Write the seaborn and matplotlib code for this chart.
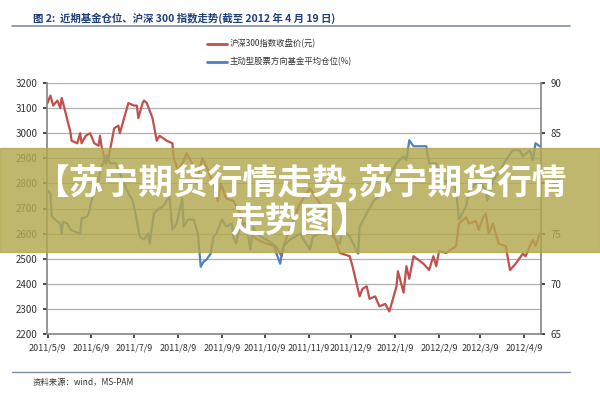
import matplotlib
matplotlib.use("Agg")
import matplotlib.pyplot as plt
import seaborn as sns
import pandas as pd
import numpy as np
from matplotlib.patches import Rectangle

sns.set_theme(style="white")
plt.rcParams['font.family'] = ['Noto Sans CJK SC', 'DejaVu Sans']

red_days = [0,2,4,7,9,10,11,15,16,17,21,23,24,27,30,33,36,37,38,41,43,47,50,51,54,57,61,63,64,67,68,70,74,76,77,79,84,88,89,92,96,98,102,105,109,111,117,120,122,126,131,136,138,143,147,154,161,165,167,173,178,
            185,192,199,206,213,215,220,222,225,227,231,234,238,241,246,247,251,253,255,258,265,269,272,274,276,281,288,290,295,297,302,304,307,309,311,314,318,323,326,330,335,337,342,344,347]
red_vals = [3120,3150,3110,3130,3100,3140,3120,3030,3010,2970,2960,3000,2960,2990,3000,2960,2950,2990,2950,2880,2900,3020,3030,3000,3060,3120,3110,3110,3060,3120,3130,3120,3060,3000,2970,2990,2970,2960,2900,2850,2890,2920,2880,2800,2900,2880,2800,2730,2800,2740,2730,2680,2620,2600,2580,2560,2550,2510,2560,2650,2720,
            2780,2720,2640,2523,2510,2470,2350,2380,2390,2340,2350,2310,2320,2290,2390,2450,2365,2470,2420,2510,2480,2455,2510,2470,2530,2523,2550,2640,2665,2640,2650,2615,2665,2680,2600,2640,2560,2550,2455,2480,2520,2510,2575,2550,2600]

pos_days = [0,2,3,7,9,10,11,14,16,19,23,24,28,29,31,35,38,42,44,48,51,56,60,62,65,68,71,72,75,77,82,84,86,88,91,95,96,99,103,106,108,110,112,115,117,119,123,126,130,131,133,136,140,143,145,147,154,159,164,166,171,178,
            185,187,192,199,201,206,208,213,219,220,225,230,234,239,246,251,253,255,258,267,269,274,279,286,288,290,295,297,300,304,309,310,314,318,323,328,333,335,340,342,344,347]
pos_vals = [79.3,79.0,76.7,76.2,76.0,75.0,76.2,76.0,75.4,75.2,75.0,76.5,76.7,77.0,78.3,79.7,81.7,82.8,82.0,82.0,81.0,79.3,78.3,77.0,74.7,74.4,75.0,74.0,77.0,77.3,77.8,78.3,78.7,75.4,76.0,78.5,75.7,76.4,76.4,75.0,71.7,72.2,72.4,73.0,74.7,75.0,76.4,75.7,76.0,74.7,74.0,76.0,76.0,73.4,75.7,75.0,74.4,74.0,72.0,73.7,74.4,75.0,
            73.4,74.7,75.0,75.7,74.7,74.0,75.4,74.7,73.0,75.7,77.0,78.3,78.7,80.3,82.0,82.7,82.3,84.3,83.7,83.7,82.0,82.0,80.3,80.0,79.3,76.4,77.7,79.3,79.7,80.3,79.3,78.3,80.3,81.0,82.3,83.3,83.3,82.7,83.3,82.3,84.0,83.7]

start = pd.Timestamp("2011-05-09")
red_df = pd.DataFrame({"date": start + pd.to_timedelta(red_days, unit="D"), "v": red_vals})
pos_df = pd.DataFrame({"date": start + pd.to_timedelta(pos_days, unit="D"), "v": pos_vals})

tick_labels = ["2011/5/9","2011/6/9","2011/7/9","2011/8/9","2011/9/9","2011/10/9","2011/11/9","2011/12/9","2012/1/9","2012/2/9","2012/3/9","2012/4/9"]
tick_dates = pd.to_datetime(tick_labels, format="%Y/%m/%d")

fig = plt.figure(figsize=(6, 4), dpi=100)
ax = fig.add_axes([0.078, 0.165, 0.824, 0.6275])
ax2 = ax.twinx()
sns.lineplot(data=red_df, x="date", y="v", ax=ax, color="#c0504d", lw=1.6)
sns.lineplot(data=pos_df, x="date", y="v", ax=ax2, color="#4f81bd", lw=1.6)
ax.set_ylim(2200, 3200)
ax.set_yticks(range(2200, 3201, 100))
ax2.set_ylim(65, 90)
ax2.set_yticks(range(65, 91, 5))
ax.set_xlim(start - pd.Timedelta(days=0.5), start + pd.Timedelta(days=348))
ax.set_xticks(tick_dates)
ax.set_xticklabels(tick_labels)
for a in (ax, ax2):
    a.set_xlabel(""); a.set_ylabel("")
    a.tick_params(labelsize=7, colors="#333333", length=3)
    for s in a.spines.values():
        s.set_visible(False)
ax.spines["left"].set_visible(True); ax.spines["left"].set_color("#888888")
ax.spines["bottom"].set_visible(True); ax.spines["bottom"].set_color("#888888")
ax2.spines["right"].set_visible(True); ax2.spines["right"].set_color("#888888")
ax.tick_params(axis="x", labelsize=6.5, direction="out", bottom=True)
ax.tick_params(axis="y", left=True)
ax2.tick_params(axis="y", right=True)
ax.grid(axis="y", color="#b0b0b0", lw=0.9)
ax.set_axisbelow(True)

fig.text(0.055, 0.955, "图 2:  近期基金仓位、沪深 300 指数走势(截至 2012 年 4 月 19 日)", fontsize=7.5,
         color="#1f3f7a", fontweight="bold", va="center")
fig.add_artist(plt.Line2D([0.02, 0.95], [0.935, 0.935], color="#7f8fa6", lw=1.2))
fig.add_artist(plt.Line2D([0.345, 0.378], [0.89, 0.89], color="#c0504d", lw=2))
fig.text(0.383, 0.89, "沪深300指数收盘价(元)", fontsize=6, va="center", color="#333333")
fig.add_artist(plt.Line2D([0.345, 0.378], [0.845, 0.845], color="#4f81bd", lw=2))
fig.text(0.383, 0.845, "主动型股票方向基金平均仓位(%)", fontsize=6, va="center", color="#333333")
fig.add_artist(plt.Line2D([0.02, 0.95], [0.07, 0.07], color="#7f8fa6", lw=1))
fig.text(0.055, 0.045, "资料来源：wind，MS-PAM", fontsize=6, va="center", color="#333333")

fig.add_artist(Rectangle((0, 0.37), 1, 0.26, transform=fig.transFigure, color="#b3a84f", alpha=0.82, zorder=10))
fig.text(0.5, 0.545, "【苏宁期货行情走势,苏宁期货行情", fontsize=25, color="white", fontweight="bold",
         ha="center", va="center", zorder=11)
fig.text(0.5, 0.445, "走势图】", fontsize=25, color="white", fontweight="bold", ha="center", va="center", zorder=11)

fig.savefig("out.png", dpi=100)
